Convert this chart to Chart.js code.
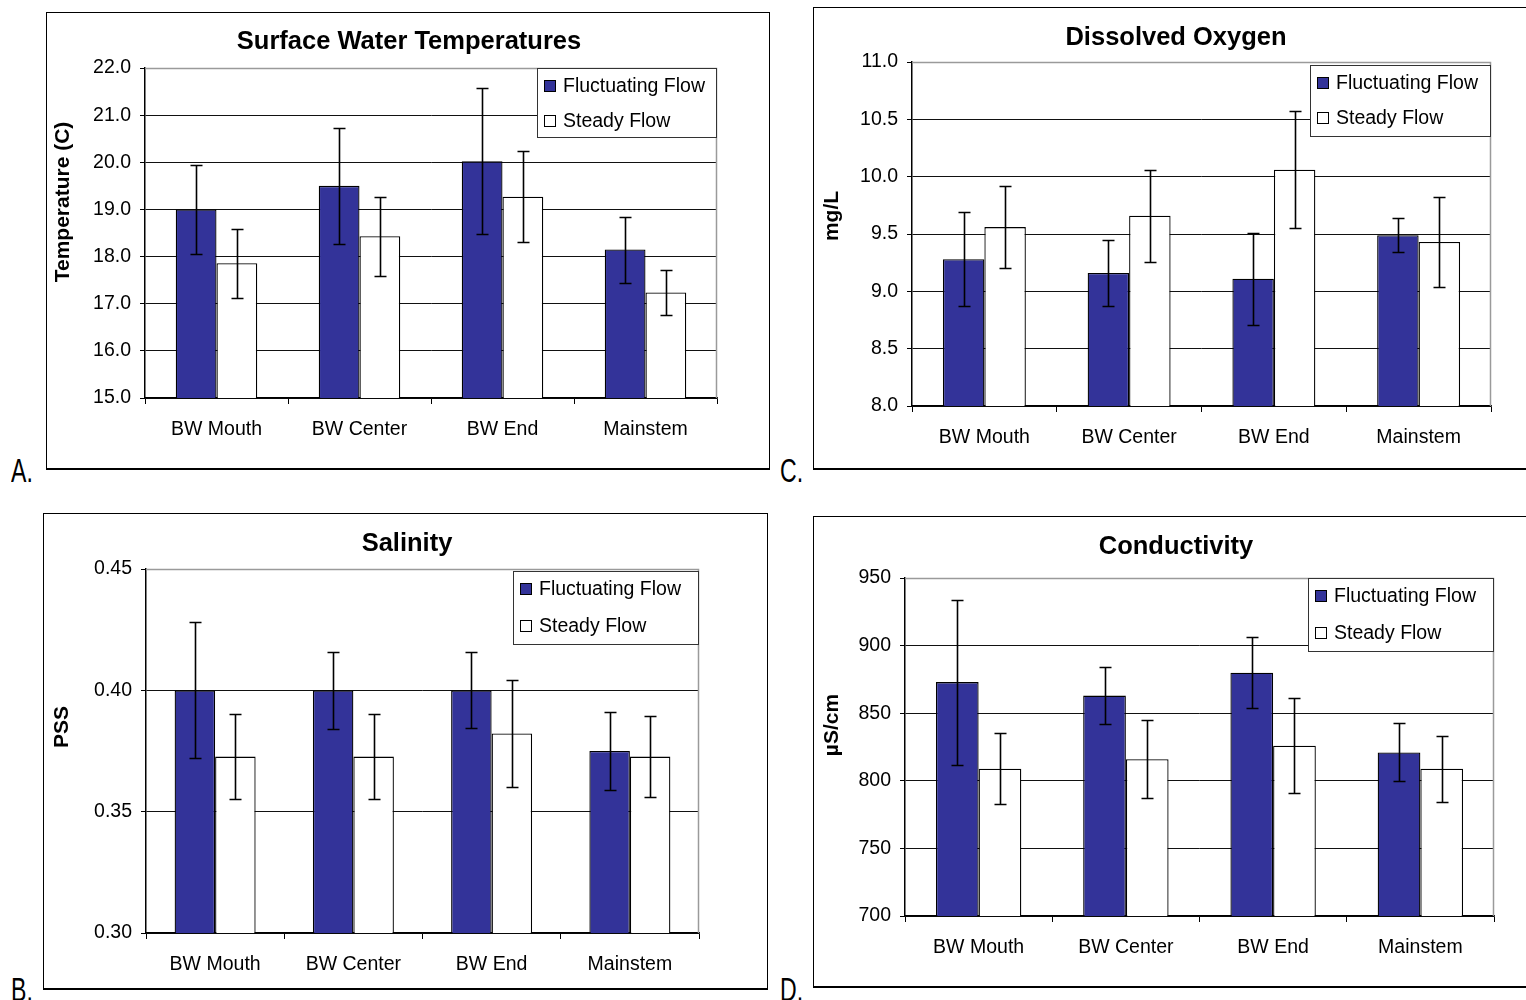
<!DOCTYPE html>
<html>
<head>
<meta charset="utf-8">
<script src="https://cdn.jsdelivr.net/npm/chart.js@4/dist/chart.umd.min.js"></script>
<style>
  html,body{margin:0;padding:0;background:#fff;}
  body{width:1526px;height:1000px;overflow:hidden;position:relative;}
  canvas{position:absolute;}
  .box{position:absolute;border:1px solid #000;border-bottom-width:2px;box-sizing:border-box;pointer-events:none;}
  .lab{position:absolute;font-family:'Liberation Sans',Arial,sans-serif;font-size:33px;line-height:1;color:#000;transform:scaleX(0.7);transform-origin:0 0;}
</style>
</head>
<body>
<canvas id="cA" width="724" height="458" style="left:46px;top:12px"></canvas>
<canvas id="cC" width="720" height="463" style="left:813px;top:7px"></canvas>
<canvas id="cB" width="725" height="477" style="left:43px;top:513px"></canvas>
<canvas id="cD" width="720" height="472" style="left:813px;top:516px"></canvas>
<div class="box" style="left:46px;top:12px;width:724px;height:458px"></div>
<div class="box" style="left:813px;top:7px;width:720px;height:463px"></div>
<div class="box" style="left:43px;top:513px;width:725px;height:477px"></div>
<div class="box" style="left:813px;top:516px;width:720px;height:472px"></div>
<div class="lab" style="left:11px;top:454px">A.</div>
<div class="lab" style="left:780px;top:454px">C.</div>
<div class="lab" style="left:11px;top:973px">B.</div>
<div class="lab" style="left:780px;top:973px">D.</div>
<script>
// ---------------- DATA ----------------
const categories = ['BW Mouth', 'BW Center', 'BW End', 'Mainstem'];
const seriesNames = ['Fluctuating Flow', 'Steady Flow'];

// A. Surface Water Temperatures (C)
const tempFluct = [19.00, 19.50, 20.02, 18.15];
const tempFluctErr = [0.95, 1.23, 1.55, 0.70];
const tempSteady = [17.86, 18.43, 19.27, 17.24];
const tempSteadyErr = [0.73, 0.84, 0.96, 0.47];
const tempTicks = [15, 22, 1];

// C. Dissolved Oxygen (mg/L)
const doFluct = [9.28, 9.16, 9.11, 9.49];
const doFluctErr = [0.41, 0.29, 0.40, 0.15];
const doSteady = [9.56, 9.66, 10.06, 9.43];
const doSteadyErr = [0.36, 0.40, 0.51, 0.39];
const doTicks = [8, 11, 0.5];

// B. Salinity (PSS)
const salFluct = [0.400, 0.400, 0.400, 0.375];
const salFluctErr = [0.028, 0.016, 0.0157, 0.016];
const salSteady = [0.3727, 0.3727, 0.3822, 0.3727];
const salSteadyErr = [0.0176, 0.0176, 0.022, 0.0167];
const salTicks = [0.30, 0.45, 0.05];

// D. Conductivity (µS/cm)
const condFluct = [873, 863, 880, 821];
const condFluctErr = [61, 21, 26, 21.5];
const condSteady = [809, 816, 826, 809];
const condSteadyErr = [26, 29, 35, 24.5];
const condTicks = [700, 950, 50];

// ---------------- STYLE ----------------
const NAVY = '#333399';
const FONT = "'Liberation Sans', Arial, sans-serif";
const TICK_SIZE = 19.5;

const errorBars = {
  id: 'errorBars',
  afterDatasetsDraw(chart) {
    const ctx = chart.ctx, ys = chart.scales.y;
    chart.data.datasets.forEach((ds, i) => {
      const meta = chart.getDatasetMeta(i);
      meta.data.forEach((bar, j) => {
        const v = ds.data[j], e = ds.errors[j];
        const x = Math.round(bar.x) + 0.5;
        const yt = Math.round(ys.getPixelForValue(v + e)) + 0.5;
        const yb = Math.round(ys.getPixelForValue(v - e)) + 0.5;
        ctx.save();
        ctx.strokeStyle = '#000';
        ctx.lineWidth = 1.6;
        ctx.beginPath();
        ctx.moveTo(x, yt); ctx.lineTo(x, yb);
        ctx.moveTo(x - 6, yt); ctx.lineTo(x + 6, yt);
        ctx.moveTo(x - 6, yb); ctx.lineTo(x + 6, yb);
        ctx.stroke();
        ctx.restore();
      });
    });
  }
};

const decor = {
  id: 'decor',
  beforeDatasetsDraw(chart) {
    const ctx = chart.ctx, a = chart.chartArea;
    ctx.save();
    ctx.strokeStyle = '#9a9a9a';
    ctx.lineWidth = 1.5;
    ctx.beginPath();
    ctx.moveTo(a.left, a.top + 0.5); ctx.lineTo(a.right - 0.5, a.top + 0.5); ctx.lineTo(a.right - 0.5, a.bottom);
    ctx.stroke();
    ctx.restore();
  },
  afterDraw(chart, args, o) {
    const ctx = chart.ctx;
    ctx.save();
    // chart title
    ctx.fillStyle = '#000';
    ctx.font = 'bold 25.5px ' + FONT;
    ctx.textAlign = 'center';
    ctx.textBaseline = 'middle';
    ctx.fillText(o.title, o.tx, o.ty);
    // y axis title
    ctx.save();
    ctx.translate(o.yx, o.yy);
    ctx.rotate(-Math.PI / 2);
    ctx.font = 'bold 21px ' + FONT;
    ctx.fillText(o.ytitle, 0, 0);
    ctx.restore();
    // legend
    const L = o.legend;
    ctx.fillStyle = '#fff';
    ctx.fillRect(L.x, L.y, L.w, L.h);
    ctx.strokeStyle = '#333';
    ctx.lineWidth = 1;
    ctx.strokeRect(L.x + 0.5, L.y + 0.5, L.w - 1, L.h - 1);
    ctx.font = TICK_SIZE + 'px ' + FONT;
    ctx.textAlign = 'left';
    chart.data.datasets.forEach((ds, i) => {
      const cy = L.rows[i];
      ctx.fillStyle = ds.backgroundColor;
      ctx.fillRect(L.mx + 0.5, cy - 5.5, 11, 11);
      ctx.strokeStyle = '#000';
      ctx.strokeRect(L.mx + 0.5, cy - 5.5, 11, 11);
      ctx.fillStyle = '#000';
      ctx.fillText(ds.label, L.mx + 19, cy + 1);
    });
    ctx.restore();
  }
};

function makeChart(id, p) {
  return new Chart(document.getElementById(id), {
    type: 'bar',
    data: {
      labels: categories,
      datasets: [
        { label: seriesNames[0], data: p.fluct, errors: p.fluctErr, backgroundColor: NAVY,
          borderColor: '#000', borderWidth: 1.3, borderSkipped: false,
          barPercentage: 1, categoryPercentage: p.cat },
        { label: seriesNames[1], data: p.steady, errors: p.steadyErr, backgroundColor: '#ffffff',
          borderColor: '#000', borderWidth: 1.3, borderSkipped: false,
          barPercentage: 1, categoryPercentage: p.cat }
      ]
    },
    options: {
      responsive: false,
      animation: false,
      devicePixelRatio: 1,
      layout: { padding: { left: 0, right: p.padR, top: p.top, bottom: 0 } },
      plugins: {
        legend: { display: false },
        tooltip: { enabled: false },
        title: { display: false },
        decor: p.decor
      },
      scales: {
        x: {
          offset: true,
          grid: { offset: true, drawOnChartArea: false, drawTicks: true, tickLength: 6, color: '#000', lineWidth: 1 },
          border: { display: true, color: '#000', width: 1.5 },
          ticks: { color: '#000', font: { family: FONT, size: TICK_SIZE }, padding: 14, maxRotation: 0, autoSkip: false },
          afterFit(s) { s.height = p.xh; }
        },
        y: {
          min: p.ticks[0], max: p.ticks[1],
          ticks: { stepSize: p.ticks[2], color: '#000', font: { family: FONT, size: TICK_SIZE }, padding: 9,
                   callback: v => Number(v).toFixed(p.dec) },
          grid: { color: '#111', lineWidth: 1, tickLength: 5, tickColor: '#000' },
          border: { display: true, color: '#000', width: 1.5 },
          afterFit(s) { s.width = p.yw; }
        }
      }
    },
    plugins: [decor, errorBars]
  });
}

makeChart('cA', {
  fluct: tempFluct, fluctErr: tempFluctErr, steady: tempSteady, steadyErr: tempSteadyErr,
  ticks: tempTicks, dec: 1, yw: 99, padR: 53, top: 56, xh: 72, cat: 0.57,
  decor: { title: 'Surface Water Temperatures', tx: 363, ty: 30, ytitle: 'Temperature (C)', yx: 17, yy: 190,
           legend: { x: 491, y: 56, w: 180, h: 70, rows: [74, 109], mx: 498 } }
});
makeChart('cC', {
  fluct: doFluct, fluctErr: doFluctErr, steady: doSteady, steadyErr: doSteadyErr,
  ticks: doTicks, dec: 1, yw: 99, padR: 42, top: 55, xh: 64, cat: 0.573,
  decor: { title: 'Dissolved Oxygen', tx: 363, ty: 31, ytitle: 'mg/L', yx: 19, yy: 209,
           legend: { x: 497, y: 58, w: 181, h: 72, rows: [76, 111], mx: 504 } }
});
makeChart('cB', {
  fluct: salFluct, fluctErr: salFluctErr, steady: salSteady, steadyErr: salSteadyErr,
  ticks: salTicks, dec: 2, yw: 103, padR: 69, top: 56, xh: 57, cat: 0.586,
  decor: { title: 'Salinity', tx: 364, ty: 31, ytitle: 'PSS', yx: 19, yy: 214,
           legend: { x: 470, y: 58, w: 186, h: 74, rows: [76, 113], mx: 477 } }
});
makeChart('cD', {
  fluct: condFluct, fluctErr: condFluctErr, steady: condSteady, steadyErr: condSteadyErr,
  ticks: condTicks, dec: 0, yw: 92, padR: 39, top: 62, xh: 72, cat: 0.58,
  decor: { title: 'Conductivity', tx: 363, ty: 31, ytitle: 'µS/cm', yx: 19, yy: 209,
           legend: { x: 495, y: 62, w: 186, h: 74, rows: [80, 117], mx: 502 } }
});
</script>
</body>
</html>
